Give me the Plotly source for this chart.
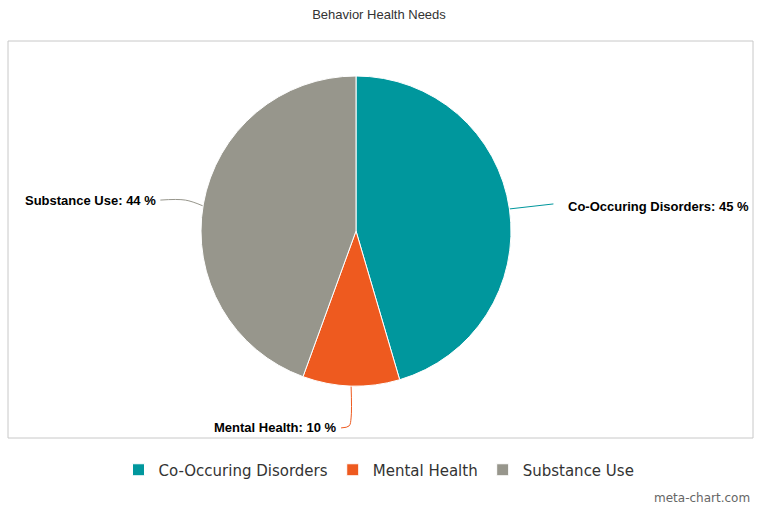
import math
import plotly.graph_objects as go

W, H = 758, 506

categories = ["Co-Occuring Disorders", "Mental Health", "Substance Use"]
values = [45, 10, 44]
pct_labels = ["45 %", "10 %", "44 %"]
colors = ["#00979d", "#ee5a1f", "#97968c"]

# pie geometry in pixels
cx, cy, r = 356, 231, 155


def px(x):
    return x / W


def py(y):
    return 1 - y / H


fig = go.Figure()
fig.add_trace(go.Pie(
    labels=categories, values=values, sort=False, direction="clockwise", rotation=0,
    marker=dict(colors=colors, line=dict(color="white", width=1)),
    textinfo="none", hoverinfo="label+percent",
    domain=dict(x=[px(cx - r), px(cx + r)], y=[py(cy + r), py(cy - r)]),
))

# outside labels with connectors, computed from slice mid-angles
total = sum(values)
cum = 0
for name, v, pl, col in zip(categories, values, pct_labels, colors):
    mid = (cum + v / 2) / total * 2 * math.pi
    cum += v
    ex, ey = cx + r * math.sin(mid), cy - r * math.cos(mid)
    if abs(math.sin(mid)) < 0.3:
        # bottom label: go down then hook left
        lx, ly = ex - 12, ey + 42
        pts = [(ex, ey), (ex, ey + 32), (ex - 2, ly - 2), (lx + 2, ly)]
        anchor = "right"
    elif math.sin(mid) > 0:
        lx, ly = ex + 57, ey - 2
        pts = [(ex, ey), (ex + 44, ey - 5)]
        anchor = "left"
    else:
        lx, ly = ex - 45, ey - 4
        pts = [(ex, ey + 2), (ex - 18, ey - 4), (ex - 43, ly)]
        anchor = "right"
    fig.add_trace(go.Scatter(
        x=[px(p[0]) for p in pts], y=[py(p[1]) for p in pts], mode="lines",
        line=dict(color=col, width=1, shape="spline"), xaxis="x", yaxis="y",
        showlegend=False, hoverinfo="skip"))
    fig.add_annotation(
        x=px(lx), y=py(ly), xref="paper", yref="paper", xanchor=anchor, yanchor="middle",
        text="<b>%s: %s</b>" % (name, pl), showarrow=False,
        font=dict(family="Liberation Sans, Arial", size=13, color="#000000"))

fig.add_shape(type="rect", xref="paper", yref="paper", layer="below",
              x0=px(8), x1=px(753), y0=py(438), y1=py(41),
              line=dict(color="#c8c8c8", width=1))

fig.add_annotation(x=px(752), y=py(498), xref="paper", yref="paper", xanchor="right",
                   yanchor="middle", text="meta-chart.com", showarrow=False,
                   font=dict(family="DejaVu Sans, Arial", size=12, color="#666666"))

fig.update_layout(
    width=W, height=H, autosize=False,
    margin=dict(l=0, r=0, t=0, b=0),
    paper_bgcolor="white", plot_bgcolor="rgba(0,0,0,0)",
    title=dict(text="Behavior Health Needs", x=0.5, xanchor="center", y=py(14), yanchor="middle",
               font=dict(family="Liberation Sans, Arial", size=13, color="#333333")),
    xaxis=dict(range=[0, 1], visible=False, domain=[0, 1], fixedrange=True),
    yaxis=dict(range=[0, 1], visible=False, domain=[0, 1], fixedrange=True),
    legend=dict(orientation="h", x=0.5, xanchor="center", y=py(470), yanchor="middle",
                font=dict(family="DejaVu Sans, Arial", size=15, color="#333333"),
                itemwidth=30, traceorder="normal"),
)

fig.write_html("out.html", config={"displayModeBar": False},
               post_script="document.body.style.margin='0';")
